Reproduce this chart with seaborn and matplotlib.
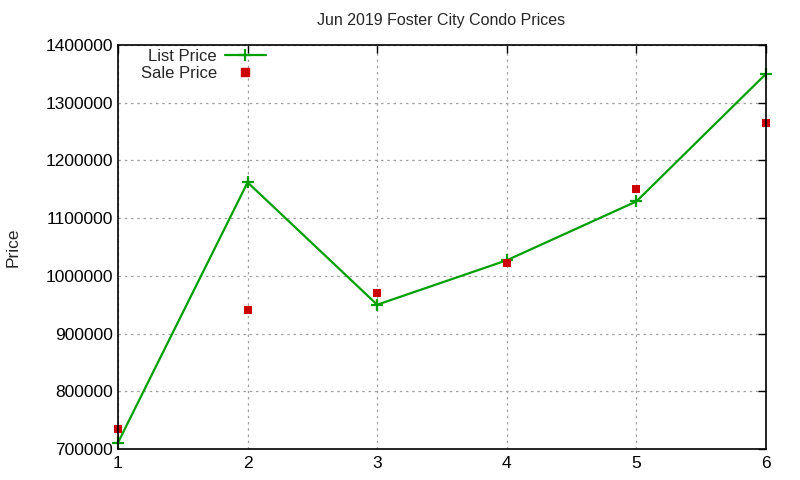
import matplotlib
matplotlib.use("Agg")
import matplotlib.pyplot as plt
import seaborn as sns
import pandas as pd
from matplotlib.lines import Line2D

listings = [1, 2, 3, 4, 5, 6]
list_price = [711000, 1162000, 950000, 1027000, 1129000, 1350000]
sale_price = [735000, 940000, 970000, 1022000, 1150000, 1265000]
y_ticks = [700000, 800000, 900000, 1000000, 1100000, 1200000, 1300000, 1400000]
title = "Jun 2019 Foster City Condo Prices"

df = pd.DataFrame({"n": listings, "list": list_price, "sale": sale_price})

sns.set_style("white")
plt.rcParams["font.family"] = ["Liberation Sans", "DejaVu Sans"]

fig = plt.figure(figsize=(8, 4.8), dpi=100)
ax = fig.add_axes([118/800, 1-449/480, (766-118)/800, (449-45)/480])

green = "#00a000"
red = "#cc0000"
sns.lineplot(data=df, x="n", y="list", ax=ax, color=green, lw=1.6,
             marker="+", markersize=8, markeredgewidth=1.6, markeredgecolor=green,
             clip_on=False, zorder=4)
sns.scatterplot(data=df, x="n", y="sale", ax=ax, color=red, marker="s", s=36,
                edgecolor=red, linewidth=0, zorder=5, clip_on=False)

ax.set_xlim(1, 6)
ax.set_ylim(700000, 1400000)
ax.set_xticks(listings)
ax.set_yticks(y_ticks)
ax.set_yticklabels([str(v) for v in y_ticks])
ax.grid(True, color="#a0a0a0", linestyle=(0, (2, 3)), linewidth=0.9)
ax.tick_params(direction="in", top=True, right=True, length=6, width=1,
               labelsize=12.5, colors="black", pad=5)
ax.tick_params(axis="y", pad=3.5)
for s in ax.spines.values():
    s.set_color("black")
    s.set_linewidth(1.2)
    s.set_zorder(6)
ax.set_xlabel("")
ax.set_ylabel("Price", fontsize=12.5, labelpad=18)
fig.text((316+566)/2/800, 1-20/480, title, ha="center", va="center", fontsize=11.5)

handles = [
    Line2D([], [], color=green, lw=1.6, marker="+", markersize=8, markeredgewidth=1.6),
    Line2D([], [], color=red, lw=0, marker="s", markersize=6),
]
ax.legend(handles, ["List Price", "Sale Price"], loc="upper right",
          bbox_to_anchor=((267-118)/648, 1.0 - 3/404), frameon=False, markerfirst=False,
          fontsize=12, handlelength=2.5, handletextpad=0.45, labelspacing=0.1,
          borderaxespad=0, borderpad=0.05)

fig.savefig("out.png", dpi=100)
